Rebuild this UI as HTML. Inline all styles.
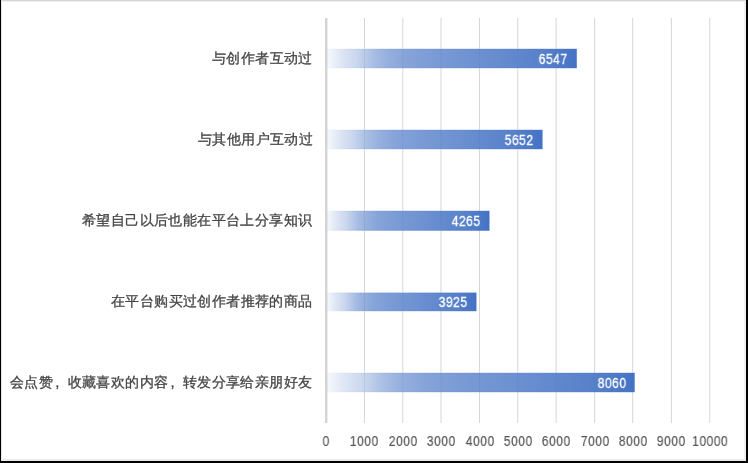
<!DOCTYPE html>
<html><head><meta charset="utf-8">
<style>
html,body{margin:0;padding:0;background:#fff;}
body{width:748px;height:463px;overflow:hidden;position:relative;font-family:"Liberation Sans",sans-serif;}
svg{position:absolute;left:0;top:0;}
.c,.v,.t{position:absolute;will-change:transform;white-space:nowrap;line-height:20px;height:20px;}
.c{font-size:14.4px;letter-spacing:0.4px;color:#454545;-webkit-text-stroke:0.3px #454545;}
.cm{display:inline-block;width:14.4px;letter-spacing:0;padding-left:2px;font-size:15px;box-sizing:border-box;}
.v{font-size:14px;color:#fff;-webkit-text-stroke:0.3px #fff;letter-spacing:0.6px;margin-right:-0.5px;transform:scaleX(0.86);transform-origin:100% 50%;}
.t{font-size:14px;color:#555;-webkit-text-stroke:0.15px #555;width:60px;text-align:center;letter-spacing:0.6px;text-indent:0.6px;transform:scaleX(0.86);line-height:16px;}
</style></head><body>
<svg width="748" height="463" viewBox="0 0 748 463">
<defs>
<linearGradient id="g" x1="0" y1="0" x2="1" y2="0">
<stop offset="0" stop-color="#4472c4" stop-opacity="0.05"/>
<stop offset="0.06" stop-color="#4472c4" stop-opacity="0.18"/>
<stop offset="0.12" stop-color="#4472c4" stop-opacity="0.29"/>
<stop offset="0.19" stop-color="#4472c4" stop-opacity="0.47"/>
<stop offset="0.24" stop-color="#4472c4" stop-opacity="0.56"/>
<stop offset="0.32" stop-color="#4472c4" stop-opacity="0.65"/>
<stop offset="0.45" stop-color="#4472c4" stop-opacity="0.72"/>
<stop offset="0.625" stop-color="#4472c4" stop-opacity="0.79"/>
<stop offset="0.87" stop-color="#4472c4" stop-opacity="0.90"/>
<stop offset="1" stop-color="#4472c4" stop-opacity="1"/>
</linearGradient>
</defs>
<rect x="0" y="0" width="748" height="463" fill="#fff"/>
<rect x="364.00" y="18" width="1" height="405" fill="#d6d6d6"/><rect x="402.30" y="18" width="1" height="405" fill="#d6d6d6"/><rect x="440.50" y="18" width="1" height="405" fill="#d6d6d6"/><rect x="479.00" y="18" width="1" height="405" fill="#d6d6d6"/><rect x="517.25" y="18" width="1" height="405" fill="#d6d6d6"/><rect x="555.60" y="18" width="1" height="405" fill="#d6d6d6"/><rect x="594.10" y="18" width="1" height="405" fill="#d6d6d6"/><rect x="632.15" y="18" width="1" height="405" fill="#d6d6d6"/><rect x="670.90" y="18" width="1" height="405" fill="#d6d6d6"/><rect x="709.30" y="18" width="1" height="405" fill="#d6d6d6"/>
<rect x="325" y="18" width="2" height="405" fill="#d4d4d4"/><rect x="327" y="18" width="1" height="405" fill="#ececec"/>
<rect x="328" y="48.80" width="248.79" height="19.40" fill="#fff"/><rect x="364.00" y="48.80" width="1" height="19.40" fill="#e9e9e9"/><rect x="402.30" y="48.80" width="1" height="19.40" fill="#e9e9e9"/><rect x="440.50" y="48.80" width="1" height="19.40" fill="#e9e9e9"/><rect x="479.00" y="48.80" width="1" height="19.40" fill="#e9e9e9"/><rect x="517.25" y="48.80" width="1" height="19.40" fill="#e9e9e9"/><rect x="555.60" y="48.80" width="1" height="19.40" fill="#e9e9e9"/><rect x="327" y="48.80" width="249.79" height="19.40" fill="url(#g)"/><rect x="327" y="49" width="249.79" height="1" fill="url(#g)" opacity="0.12"/><rect x="327" y="67" width="249.79" height="1" fill="url(#g)" opacity="0.12"/><rect x="328" y="129.80" width="214.55" height="19.40" fill="#fff"/><rect x="364.00" y="129.80" width="1" height="19.40" fill="#e9e9e9"/><rect x="402.30" y="129.80" width="1" height="19.40" fill="#e9e9e9"/><rect x="440.50" y="129.80" width="1" height="19.40" fill="#e9e9e9"/><rect x="479.00" y="129.80" width="1" height="19.40" fill="#e9e9e9"/><rect x="517.25" y="129.80" width="1" height="19.40" fill="#e9e9e9"/><rect x="327" y="129.80" width="215.55" height="19.40" fill="url(#g)"/><rect x="327" y="130" width="215.55" height="1" fill="url(#g)" opacity="0.12"/><rect x="327" y="148" width="215.55" height="1" fill="url(#g)" opacity="0.12"/><rect x="328" y="210.80" width="161.48" height="19.95" fill="#fff"/><rect x="364.00" y="210.80" width="1" height="19.95" fill="#e9e9e9"/><rect x="402.30" y="210.80" width="1" height="19.95" fill="#e9e9e9"/><rect x="440.50" y="210.80" width="1" height="19.95" fill="#e9e9e9"/><rect x="479.00" y="210.80" width="1" height="19.95" fill="#e9e9e9"/><rect x="327" y="210.80" width="162.48" height="19.95" fill="url(#g)"/><rect x="327" y="211" width="162.48" height="1" fill="url(#g)" opacity="0.12"/><rect x="327" y="229" width="162.48" height="1" fill="url(#g)" opacity="0.12"/><rect x="328" y="292.60" width="148.47" height="18.60" fill="#fff"/><rect x="364.00" y="292.60" width="1" height="18.60" fill="#e9e9e9"/><rect x="402.30" y="292.60" width="1" height="18.60" fill="#e9e9e9"/><rect x="440.50" y="292.60" width="1" height="18.60" fill="#e9e9e9"/><rect x="327" y="292.60" width="149.47" height="18.60" fill="url(#g)"/><rect x="327" y="293" width="149.47" height="1" fill="url(#g)" opacity="0.12"/><rect x="327" y="310" width="149.47" height="1" fill="url(#g)" opacity="0.12"/><rect x="328" y="372.80" width="306.68" height="19.40" fill="#fff"/><rect x="364.00" y="372.80" width="1" height="19.40" fill="#e9e9e9"/><rect x="402.30" y="372.80" width="1" height="19.40" fill="#e9e9e9"/><rect x="440.50" y="372.80" width="1" height="19.40" fill="#e9e9e9"/><rect x="479.00" y="372.80" width="1" height="19.40" fill="#e9e9e9"/><rect x="517.25" y="372.80" width="1" height="19.40" fill="#e9e9e9"/><rect x="555.60" y="372.80" width="1" height="19.40" fill="#e9e9e9"/><rect x="594.10" y="372.80" width="1" height="19.40" fill="#e9e9e9"/><rect x="632.15" y="372.80" width="1" height="19.40" fill="#e9e9e9"/><rect x="327" y="372.80" width="307.68" height="19.40" fill="url(#g)"/><rect x="327" y="373" width="307.68" height="1" fill="url(#g)" opacity="0.12"/><rect x="327" y="391" width="307.68" height="1" fill="url(#g)" opacity="0.12"/>
<rect x="744" y="0" width="2" height="463" fill="#f0f0f0"/>
<rect x="0" y="1" width="748" height="1" fill="#f2f2f2"/>
<rect x="0" y="0" width="748" height="1" fill="#d4d4d4"/>
<rect x="1" y="0" width="1" height="463" fill="#e6e6e6"/>
<rect x="0" y="459" width="748" height="2" fill="#ebebeb"/>
<rect x="0" y="0" width="1" height="463" fill="#000"/>
<rect x="746" y="0" width="2" height="463" fill="#000"/>
<rect x="0" y="461" width="748" height="2" fill="#000"/>
</svg>
<div class="v" style="right:181.10px;top:48.50px">6547</div><div class="c" style="right:435.20px;top:48.00px">与创作者互动过</div><div class="v" style="right:215.40px;top:129.50px">5652</div><div class="c" style="right:435.20px;top:129.00px">与其他用户互动过</div><div class="v" style="right:268.40px;top:210.50px">4265</div><div class="c" style="right:435.80px;top:210.00px">希望自己以后也能在平台上分享知识</div><div class="v" style="right:281.40px;top:291.50px">3925</div><div class="c" style="right:435.20px;top:291.00px">在平台购买过创作者推荐的商品</div><div class="v" style="right:121.70px;top:372.50px">8060</div><div class="c" style="right:435.20px;top:372.00px">会点赞<span class="cm">,</span>收藏喜欢的内容<span class="cm">,</span>转发分享给亲朋好友</div><div class="t" style="left:296.10px;top:433.00px">0</div><div class="t" style="left:334.47px;top:433.00px">1000</div><div class="t" style="left:372.84px;top:433.00px">2000</div><div class="t" style="left:411.21px;top:433.00px">3000</div><div class="t" style="left:449.58px;top:433.00px">4000</div><div class="t" style="left:487.95px;top:433.00px">5000</div><div class="t" style="left:526.32px;top:433.00px">6000</div><div class="t" style="left:564.69px;top:433.00px">7000</div><div class="t" style="left:603.06px;top:433.00px">8000</div><div class="t" style="left:641.43px;top:433.00px">9000</div><div class="t" style="left:679.80px;top:433.00px">10000</div>
</body></html>
